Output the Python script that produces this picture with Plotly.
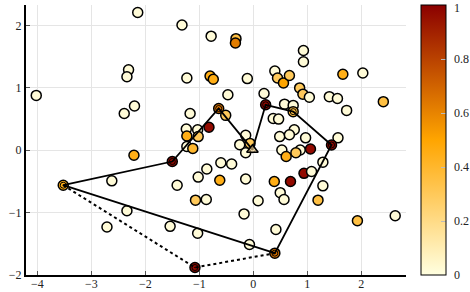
import plotly.graph_objects as go

# Scatter points (x, y, value)
px = [-4.02, -2.14, -2.31, -2.34, -2.20, -2.39, -1.32, -0.78, -0.32, -0.33,
      0.93, 0.93, -1.23, -0.80, -0.74, -0.11, 0.40, 0.45, 0.56, 0.67,
      0.86, 0.92, 1.04, -0.47, 0.20, 1.66, 2.03, 1.41, 1.56, 1.73,
      2.41, -1.17, -0.64, -0.51, 0.23, 0.58, 0.74, 0.74, 0.37, 0.47,
      -1.24, -1.23, -1.03, -1.02, -0.82, -0.14, -0.25, -0.06, -0.14, -1.23,
      -1.12, -1.50, -2.21, -3.52, -2.62, -2.34, -2.71, 0.76, 0.97, 1.57,
      1.45, 1.06, 0.87, 0.53, 0.49, 0.67, 0.61, 0.79, 1.29, 0.94,
      1.08, 0.69, 0.39, 1.29, 0.50, 0.57, 1.20, 1.93, 2.63, -1.41,
      -1.02, -0.86, -0.60, -0.40, -0.62, -0.14, -1.07, -0.87, 0.09, -0.17,
      -1.54, -1.03, 0.42, -0.07, 0.40, -1.08]
py = [0.88, 2.21, 1.29, 1.18, 0.71, 0.59, 2.01, 1.83, 1.79, 1.72,
      1.60, 1.42, 1.16, 1.19, 1.14, 1.15, 1.27, 1.16, 1.08, 1.20,
      1.00, 0.90, 0.85, 0.89, 0.91, 1.22, 1.24, 0.86, 0.83, 0.64,
      0.78, 0.59, 0.67, 0.56, 0.73, 0.74, 0.72, 0.62, 0.51, 0.50,
      0.34, 0.23, 0.33, 0.22, 0.37, 0.24, 0.09, 0.11, -0.04, 0.06,
      0.03, -0.18, -0.08, -0.56, -0.49, -0.97, -1.23, 0.33, 0.20, 0.20,
      0.085, 0.02, 0.005, 0.005, 0.22, 0.25, -0.10, -0.04, -0.19, -0.37,
      -0.34, -0.50, -0.50, -0.57, -0.68, -0.79, -0.80, -1.13, -1.05, -0.56,
      -0.43, -0.30, -0.20, -0.22, -0.48, -0.46, -0.80, -0.79, -0.81, -1.02,
      -1.22, -1.33, -1.27, -1.51, -1.65, -1.88]
pv = [0.02, 0.02, 0.02, 0.02, 0.02, 0.02, 0.02, 0.02, 0.35, 0.62,
      0.02, 0.02, 0.02, 0.45, 0.45, 0.02, 0.02, 0.30, 0.50, 0.30,
      0.30, 0.30, 0.02, 0.02, 0.02, 0.45, 0.02, 0.02, 0.02, 0.02,
      0.35, 0.02, 0.65, 0.30, 0.97, 0.02, 0.02, 0.35, 0.02, 0.02,
      0.02, 0.45, 0.02, 0.30, 0.97, 0.02, 0.02, 0.30, 0.02, 0.02,
      0.40, 0.97, 0.45, 0.45, 0.02, 0.02, 0.02, 0.02, 0.02, 0.02,
      0.97, 0.97, 0.02, 0.02, 0.02, 0.02, 0.45, 0.30, 0.02, 0.97,
      0.02, 0.97, 0.45, 0.02, 0.02, 0.02, 0.35, 0.35, 0.02, 0.02,
      0.02, 0.02, 0.02, 0.02, 0.45, 0.02, 0.30, 0.02, 0.02, 0.02,
      0.02, 0.02, 0.02, 0.02, 0.65, 0.97]

# Tour (solid) and detour (dotted)
tour_x = [-3.52, -1.50, -0.64, -0.015, 0.23, 0.74, 1.45, 0.40, -3.52]
tour_y = [-0.56, -0.18, 0.67, 0.01, 0.73, 0.62, 0.085, -1.65, -0.56]
detour_x = [-3.52, -1.08, 0.40]
detour_y = [-0.56, -1.88, -1.65]
depot_x = [-0.015]
depot_y = [0.01]

x_ticks = [-4, -3, -2, -1, 0, 1, 2]
y_ticks = [-2, -1, 0, 1, 2]
cb_ticks = [0, 0.2, 0.4, 0.6, 0.8, 1]
cb_text = ["0", "0.2", "0.4", "0.6", "0.8", "1"]

heat = [[0.0, "#FFFFE0"], [0.5, "#FFA500"], [1.0, "#8B0000"]]
font = dict(family="Liberation Serif, DejaVu Serif, serif", size=12, color="#222")

fig = go.Figure()
fig.add_trace(go.Scatter(
    x=px, y=py, mode="markers",
    marker=dict(size=10, color=pv, colorscale=heat, cmin=0, cmax=1,
                line=dict(color="black", width=1.5),
                colorbar=dict(thickness=25, len=1, lenmode="fraction", y=0.5, yanchor="middle",
                              x=1.039, xanchor="left", xpad=0, ypad=0,
                              outlinewidth=1, outlinecolor="black",
                              tickvals=cb_ticks, ticks="inside", ticklen=5, tickcolor="#bbb",
                              showticklabels=False)),
    showlegend=False, hoverinfo="skip"))
fig.add_trace(go.Scatter(x=detour_x, y=detour_y, mode="lines",
                         line=dict(color="black", width=2, dash="dot"),
                         showlegend=False, hoverinfo="skip"))
fig.add_trace(go.Scatter(x=tour_x, y=tour_y, mode="lines",
                         line=dict(color="black", width=1.8),
                         showlegend=False, hoverinfo="skip"))
fig.add_trace(go.Scatter(x=tour_x[:-1] + [detour_x[1]], y=tour_y[:-1] + [detour_y[1]],
                         mode="markers",
                         marker=dict(symbol="circle-open-dot", size=6, color="black",
                                     line=dict(color="black", width=1)),
                         showlegend=False, hoverinfo="skip"))
fig.add_trace(go.Scatter(x=depot_x, y=depot_y, mode="markers",
                         marker=dict(symbol="triangle-up", size=10, color="rgba(255,220,150,0.6)",
                                     line=dict(color="black", width=1.5)),
                         showlegend=False, hoverinfo="skip"))

# colorbar tick labels
for v, t in zip(cb_ticks, cb_text):
    fig.add_annotation(x=1.1237, y=v, xref="paper", yref="paper", text=t,
                       showarrow=False, xanchor="left", yanchor="middle",
                       font=font, borderpad=0, yshift=(-3 if v == 1 else 0))

axis_common = dict(showgrid=True, gridcolor="#e5e5e5", gridwidth=1, zeroline=False,
                   showline=True, linecolor="black", linewidth=2, mirror=False,
                   ticks="inside", ticklen=4, tickcolor="#555", tickfont=font,
                   automargin=False)
fig.update_xaxes(range=[-4.21, 2.83], tickvals=x_ticks, ticklabelstandoff=-3, **axis_common)
fig.update_yaxes(range=[-2.0, 2.33], tickvals=y_ticks, **axis_common)
fig.update_layout(width=470, height=292,
                  margin=dict(l=26, r=64, t=5, b=17, pad=0, autoexpand=False),
                  plot_bgcolor="white", paper_bgcolor="white", font=font)
fig.write_html("out.html", config={"displayModeBar": False})

# remove default page margin so the figure sits at the window's corner
with open("out.html", "r", encoding="utf-8") as f:
    html = f.read()
html = html.replace("<body>", '<body style="margin:0;padding:0;overflow:hidden">', 1)
with open("out.html", "w", encoding="utf-8") as f:
    f.write(html)
